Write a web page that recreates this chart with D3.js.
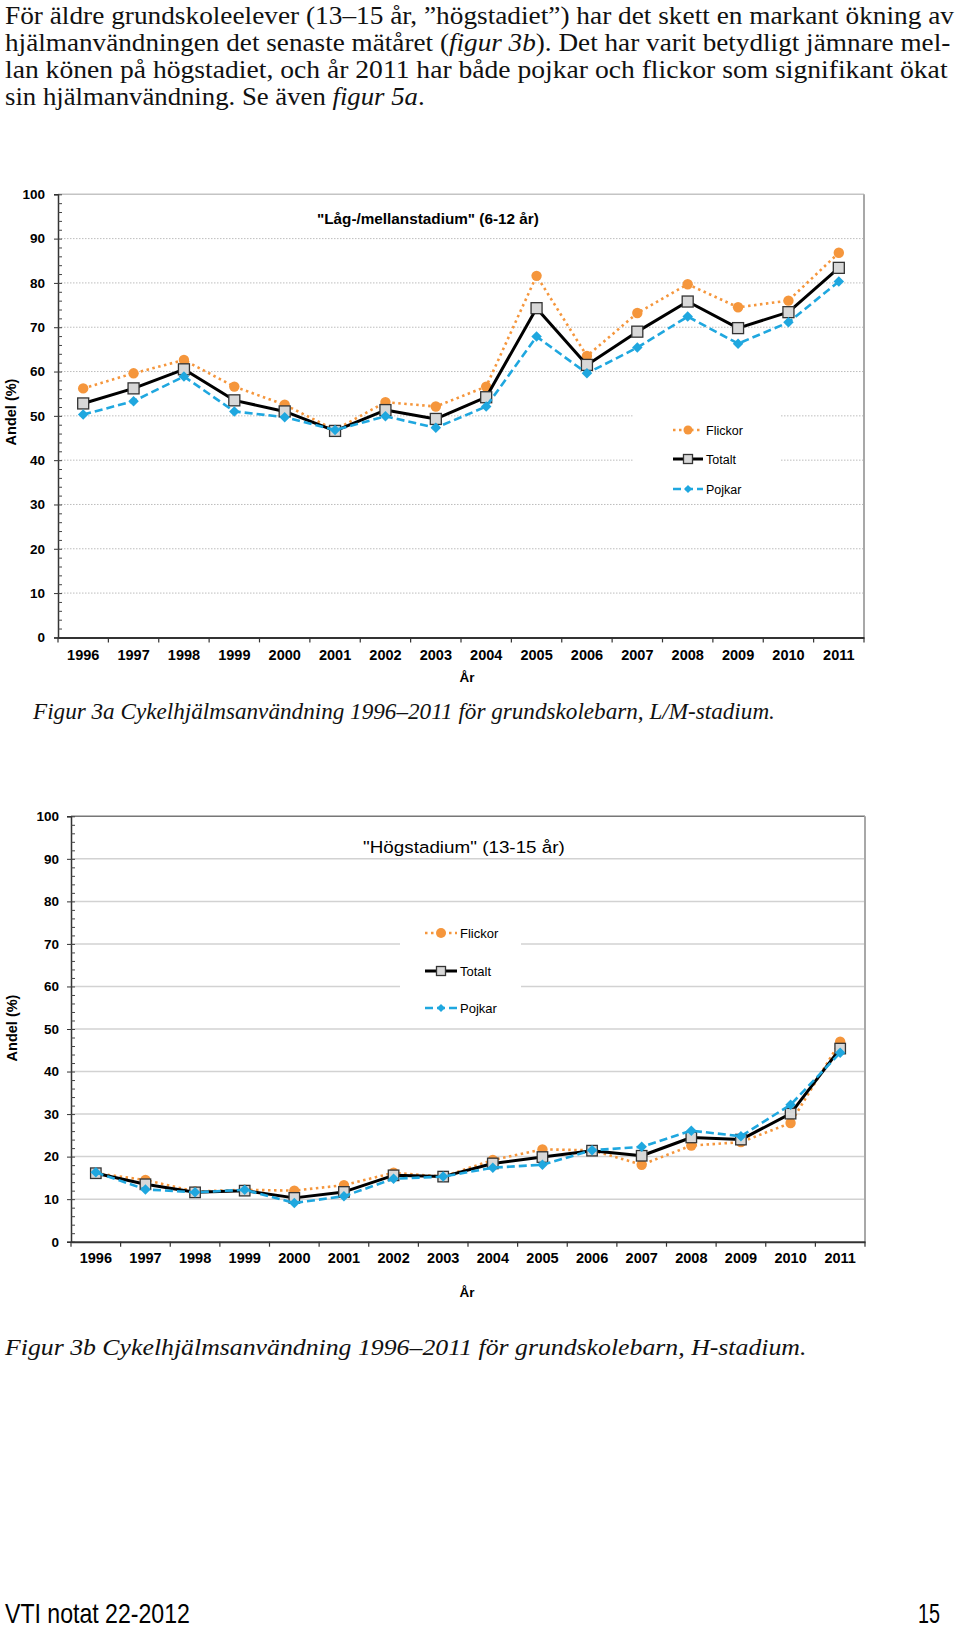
<!DOCTYPE html>
<html>
<head>
<meta charset="utf-8">
<script src="https://cdn.jsdelivr.net/npm/d3@7"></script>
<style>
  body { margin: 0; background: #fff; }
  svg { display: block; }
</style>
</head>
<body>
<svg id="page" width="960" height="1640"></svg>
<script>
const years = [1996, 1997, 1998, 1999, 2000, 2001, 2002, 2003, 2004, 2005, 2006, 2007, 2008, 2009, 2010, 2011];
const yTicks = [0, 10, 20, 30, 40, 50, 60, 70, 80, 90, 100];
const seriesNames = ['Flickor', 'Totalt', 'Pojkar'];

// Låg-/mellanstadium (figur 3a)
const lmFlickor = [56.2, 59.6, 62.6, 56.6, 52.5, 46.8, 53.1, 52.1, 56.6, 81.6, 63.5, 73.2, 79.7, 74.5, 76.0, 86.8];
const lmTotalt  = [52.8, 56.2, 60.5, 53.5, 51.0, 46.6, 51.3, 49.3, 54.2, 74.3, 61.5, 69.0, 75.8, 69.8, 73.4, 83.4];
const lmPojkar  = [50.3, 53.3, 58.9, 51.0, 49.7, 46.8, 49.9, 47.3, 52.1, 67.9, 59.6, 65.4, 72.4, 66.3, 71.1, 80.3];

// Högstadium (figur 3b)
const hFlickor = [16.1, 14.5, 11.8, 12.2, 12.0, 13.3, 16.2, 15.3, 19.2, 21.7, 21.5, 18.1, 22.6, 23.4, 27.9, 47.0];
const hTotalt  = [16.1, 13.5, 11.6, 12.0, 10.3, 11.7, 15.6, 15.3, 18.4, 19.9, 21.4, 20.2, 24.5, 24.0, 30.1, 45.4];
const hPojkar  = [16.3, 12.3, 11.6, 12.2, 9.1, 10.7, 14.8, 15.3, 17.4, 18.1, 21.5, 22.3, 26.1, 24.8, 32.2, 44.4];

const ORANGE = '#f5963c';
const BLUE = '#1fa7df';
const SANS = '"Liberation Sans", Arial, sans-serif';
const SERIF = '"Liberation Serif", "Times New Roman", serif';

const svg = d3.select('#page');

// squeeze a text element horizontally so it spans a given width
function fitWidth(sel, x, width) {
  const w = sel.node().getBBox().width;
  sel.attr('transform', `translate(${x},0) scale(${width / w},1) translate(${-x},0)`);
}

function textLine(parts, x, y, size, width) {
  const t = svg.append('text')
    .attr('x', x).attr('y', y)
    .attr('font-family', SERIF).attr('font-size', size).attr('fill', '#111');
  parts.forEach(p => {
    t.append('tspan').attr('font-style', p.i ? 'italic' : 'normal').text(p.t);
  });
  if (width) fitWidth(t, x, width);
  return t;
}

function styleFor(name) {
  if (name === 'Flickor') return { color: ORANGE, width: 2.6, dash: '2.5,3.5', sym: 'circle' };
  if (name === 'Totalt') return { color: '#000', width: 3, dash: null, sym: 'square' };
  return { color: BLUE, width: 2.6, dash: '8,4', sym: 'diamond' };
}

function marker(g, sym, x, y, s) {
  if (sym === 'circle') {
    g.append('circle').attr('cx', x).attr('cy', y).attr('r', s.r).attr('fill', ORANGE);
  } else if (sym === 'square') {
    g.append('rect').attr('x', x - s.sq / 2).attr('y', y - s.sq / 2)
      .attr('width', s.sq).attr('height', s.sq)
      .attr('fill', '#d8d8d8').attr('stroke', '#333').attr('stroke-width', 1.3);
  } else {
    g.append('path')
      .attr('d', d3.symbol(d3.symbolSquare, s.dia * s.dia / 2)())
      .attr('transform', `translate(${x},${y}) rotate(45)`)
      .attr('fill', BLUE);
  }
}

function drawChart(c) {
  const x = d3.scaleBand().domain(years).range([c.x0, c.x1]);
  const y = d3.scaleLinear().domain([0, 100]).range([c.y0, c.y1]);
  const g = svg.append('g');

  // gridlines
  g.selectAll('.grid').data(yTicks.filter(v => v > 0 && v < 100)).join('line')
    .attr('x1', c.x0).attr('x2', c.x1)
    .attr('y1', d => y(d)).attr('y2', d => y(d))
    .attr('stroke', c.gridColor).attr('stroke-width', c.gridWidth)
    .attr('stroke-dasharray', c.gridDash);

  // frame top and right
  g.append('line').attr('x1', c.x0).attr('x2', c.x1).attr('y1', y(100)).attr('y2', y(100))
    .attr('stroke', c.topColor).attr('stroke-width', 1.5);
  g.append('line').attr('x1', c.x1).attr('x2', c.x1).attr('y1', y(100)).attr('y2', y(0))
    .attr('stroke', '#a8a8a8').attr('stroke-width', 2);

  // legend box hides gridlines behind it
  g.append('rect').attr('x', c.leg.x).attr('y', c.leg.y).attr('width', c.leg.w).attr('height', c.leg.h)
    .attr('fill', '#fff');

  // y axis
  const ya = g.append('g').attr('transform', `translate(${c.x0},0)`)
    .call(d3.axisLeft(y).tickValues(yTicks).tickSize(4).tickPadding(c.yPad));
  ya.select('.domain').attr('stroke', '#333').attr('stroke-width', 1.5);
  ya.selectAll('.tick line').attr('stroke', '#333');
  ya.selectAll('text').attr('font-family', SANS).attr('font-weight', 'bold')
    .attr('font-size', 13.5).attr('fill', '#000');
  const yMinor = g.append('g').attr('transform', `translate(${c.x0},0)`)
    .call(d3.axisRight(y).tickValues(d3.range(0, 101, 2)).tickSize(4).tickFormat(''));
  yMinor.select('.domain').remove();
  yMinor.selectAll('.tick line').attr('stroke', '#444');

  // x axis
  const xa = g.append('g').attr('transform', `translate(0,${c.y0})`)
    .call(d3.axisBottom(x).tickSize(0).tickPadding(c.xPad));
  xa.select('.domain').attr('stroke', '#333').attr('stroke-width', 2);
  xa.selectAll('text').attr('font-family', SANS).attr('font-weight', 'bold')
    .attr('font-size', c.xFs).attr('fill', '#000');
  g.selectAll('.xtick').data(years.concat(['end'])).join('line')
    .attr('x1', d => d === 'end' ? c.x1 : x(d)).attr('x2', d => d === 'end' ? c.x1 : x(d))
    .attr('y1', c.y0).attr('y2', c.y0 + 5)
    .attr('stroke', '#333').attr('stroke-width', 1.2);

  // axis titles
  g.append('text').attr('x', c.arX).attr('y', c.arY)
    .attr('text-anchor', 'middle').attr('font-family', SANS).attr('font-weight', 'bold')
    .attr('font-size', 13.5).text('År');
  g.append('text').attr('transform', `translate(${c.andelX},${c.andelY}) rotate(-90)`)
    .attr('text-anchor', 'middle').attr('font-family', SANS).attr('font-weight', 'bold')
    .attr('font-size', 14.5).text('Andel (%)');

  // title
  const tt = g.append('text').attr('x', c.titleX).attr('y', c.titleY)
    .attr('font-family', SANS).attr('font-weight', c.titleWeight)
    .attr('font-size', c.titleSize).text(c.title);
  fitWidth(tt, c.titleX, c.titleW);

  // series
  const cx = d => x(d) + x.bandwidth() / 2;
  c.series.forEach((vals, k) => {
    const st = styleFor(seriesNames[k]);
    const line = d3.line().x((d, i) => cx(years[i])).y(d => y(d));
    g.append('path').datum(vals).attr('d', line)
      .attr('fill', 'none').attr('stroke', st.color).attr('stroke-width', st.width)
      .attr('stroke-dasharray', st.dash).attr('stroke-linejoin', 'round');
    const mg = g.append('g');
    vals.forEach((v, i) => marker(mg, st.sym, cx(years[i]), y(v), c.msize));
  });

  // legend
  seriesNames.forEach((name, k) => {
    const st = styleFor(name);
    const ly = c.leg.rows[k];
    g.append('line').attr('x1', c.leg.sx0).attr('x2', c.leg.sx1).attr('y1', ly).attr('y2', ly)
      .attr('stroke', st.color).attr('stroke-width', st.width).attr('stroke-dasharray', st.dash);
    marker(g, st.sym, (c.leg.sx0 + c.leg.sx1) / 2, ly, c.lsize);
    g.append('text').attr('x', c.leg.tx).attr('y', ly + c.leg.fs * 0.36)
      .attr('font-family', SANS).attr('font-size', c.leg.fs).text(name);
  });
}

// ----- page text -----
textLine([{ t: 'För äldre grundskoleelever (13–15 år, ”högstadiet”) har det skett en markant ökning av' }], 5, 24, 25, 950);
textLine([{ t: 'hjälmanvändningen det senaste mätåret (' }, { t: 'figur 3b', i: true }, { t: '). Det har varit betydligt jämnare mel-' }], 5, 51, 25, 946);
textLine([{ t: 'lan könen på högstadiet, och år 2011 har både pojkar och flickor som signifikant ökat' }], 5, 78, 25, 943);
textLine([{ t: 'sin hjälmanvändning. Se även ' }, { t: 'figur 5a', i: true }, { t: '.' }], 5, 105, 25, 420);

drawChart({
  x0: 58, x1: 864, y0: 637.4, y1: 194.3,
  gridColor: '#bdbdbd', gridWidth: 1, gridDash: '1.5,1.5', topColor: '#c4c4c4',
  yPad: 9, xPad: 12, xFs: 14.5,
  arX: 467, arY: 682, andelX: 16, andelY: 412,
  title: '"Låg-/mellanstadium" (6-12 år)', titleX: 317, titleY: 224, titleSize: 15, titleWeight: 'bold', titleW: 222,
  series: [lmFlickor, lmTotalt, lmPojkar],
  msize: { r: 5.2, sq: 11, dia: 10.5 },
  lsize: { r: 4.5, sq: 9, dia: 8 },
  leg: { x: 634, y: 393, w: 147, h: 110, rows: [430, 459, 489], sx0: 673, sx1: 703, tx: 706, fs: 12.5 }
});

drawChart({
  x0: 71, x1: 865, y0: 1241.7, y1: 816.3,
  gridColor: '#d2d2d2', gridWidth: 1.5, gridDash: null, topColor: '#777',
  yPad: 8, xPad: 11, xFs: 14.5,
  arX: 467, arY: 1297, andelX: 17, andelY: 1028,
  title: '"Högstadium" (13-15 år)', titleX: 363, titleY: 853, titleSize: 17, titleWeight: 'normal', titleW: 202,
  series: [hFlickor, hTotalt, hPojkar],
  msize: { r: 5.2, sq: 10.5, dia: 10.5 },
  lsize: { r: 5, sq: 9, dia: 8 },
  leg: { x: 400, y: 908, w: 121, h: 116, rows: [933, 971, 1008], sx0: 425, sx1: 457, tx: 460, fs: 13 }
});

// captions
textLine([{ t: 'Figur 3a  Cykelhjälmsanvändning 1996–2011 för grundskolebarn, L/M-stadium.', i: true }], 33, 719, 23, 743);
textLine([{ t: 'Figur 3b  Cykelhjälmsanvändning 1996–2011 för grundskolebarn, H-stadium.', i: true }], 5, 1355, 23, 803);

// footer
const foot = svg.append('text').attr('x', 5).attr('y', 1623)
  .attr('font-family', '"Liberation Sans Narrow", "Liberation Sans", sans-serif')
  .attr('font-size', 27).text('VTI notat 22-2012');
fitWidth(foot, 5, 185);
const pg = svg.append('text').attr('x', 918).attr('y', 1623)
  .attr('font-family', '"Liberation Sans Narrow", "Liberation Sans", sans-serif')
  .attr('font-size', 27).text('15');
fitWidth(pg, 918, 22);
</script>
</body>
</html>
